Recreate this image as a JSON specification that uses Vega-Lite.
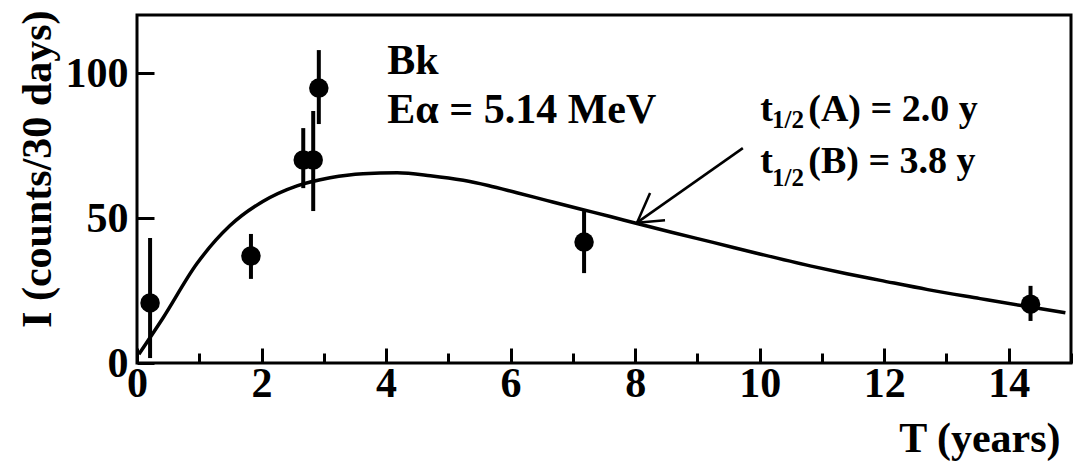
{
  "$schema": "https://vega.github.io/schema/vega-lite/v6.json",
  "width": 934,
  "height": 348,
  "autosize": {"type": "none"},
  "padding": {"left": 137, "top": 15, "right": 8, "bottom": 102},
  "background": "white",
  "config": {
    "view": {"stroke": "black", "strokeWidth": 3},
    "font": "Liberation Serif",
    "axis": {
      "grid": false,
      "domain": false,
      "labelFont": "Liberation Serif",
      "labelFontWeight": "bold",
      "labelFontSize": 42,
      "labelColor": "black",
      "labelFlush": false,
      "labelOverlap": false,
      "titleFont": "Liberation Serif",
      "titleFontWeight": "bold",
      "titleFontSize": 42,
      "titleColor": "black",
      "tickColor": "black",
      "tickWidth": 3
    },
    "text": {"font": "Liberation Serif", "fontWeight": "bold", "color": "black"}
  },
  "datasets": {
    "counts": [
      {"T": 0.21, "I": 20.7, "lo": 1.7, "hi": 43.1},
      {"T": 1.83, "I": 36.9, "lo": 29.0, "hi": 44.5},
      {"T": 2.67, "I": 70.0, "lo": 60.3, "hi": 81.0},
      {"T": 2.83, "I": 70.0, "lo": 52.4, "hi": 86.9},
      {"T": 2.92, "I": 94.8, "lo": 82.4, "hi": 107.9},
      {"T": 7.18, "I": 41.7, "lo": 31.0, "hi": 52.4},
      {"T": 14.35, "I": 20.3, "lo": 14.5, "hi": 26.6}
    ],
    "fit": [
      {"T": 0.03, "I": 3.0},
      {"T": 0.42, "I": 15.6},
      {"T": 0.96, "I": 34.2},
      {"T": 1.49, "I": 47.3},
      {"T": 2.02, "I": 55.7},
      {"T": 2.57, "I": 61.1},
      {"T": 3.1, "I": 63.9},
      {"T": 3.63, "I": 65.3},
      {"T": 4.18, "I": 65.6},
      {"T": 4.71, "I": 64.6},
      {"T": 5.24, "I": 63.0},
      {"T": 5.64, "I": 61.2},
      {"T": 6.1, "I": 58.7},
      {"T": 6.59, "I": 56.0},
      {"T": 7.1, "I": 53.2},
      {"T": 7.6, "I": 50.5},
      {"T": 8.03, "I": 48.1},
      {"T": 8.6, "I": 45.0},
      {"T": 9.25, "I": 41.6},
      {"T": 10.0, "I": 37.6},
      {"T": 10.81, "I": 33.5},
      {"T": 11.4, "I": 30.8},
      {"T": 11.94, "I": 28.5},
      {"T": 12.7, "I": 25.3},
      {"T": 13.54, "I": 22.2},
      {"T": 14.2, "I": 19.8},
      {"T": 14.91, "I": 17.3}
    ]
  },
  "layer": [
    {
      "data": {"name": "fit"},
      "mark": {"type": "line", "interpolate": "monotone", "color": "black", "strokeWidth": 3.5},
      "encoding": {
        "x": {
          "field": "T",
          "type": "quantitative",
          "scale": {"domain": [0, 15], "nice": false, "zero": false},
          "axis": {
            "title": "T (years)",
            "values": [0, 0.5, 1, 1.5, 2, 2.5, 3, 3.5, 4, 4.5, 5, 5.5, 6, 6.5, 7, 7.5, 8, 8.5, 9, 9.5, 10, 10.5, 11, 11.5, 12, 12.5, 13, 13.5, 14, 14.5, 15],
            "format": "d",
            "labelExpr": "datum.value % 2 === 0 ? datum.label : ''",
            "tickSize": {"condition": {"test": "datum.value % 2 === 0", "value": -15}, "value": -10},
            "labelPadding": 15,
            "titleAlign": "right",
            "titleAnchor": null,
            "titleX": 923,
            "titleY": 88,
            "titleBaseline": "alphabetic"
          }
        },
        "y": {
          "field": "I",
          "type": "quantitative",
          "scale": {"domain": [0, 120], "nice": false},
          "axis": {
            "title": "I (counts/30 days)",
            "values": [0, 50, 100],
            "tickSize": -17,
            "labelPadding": 26,
            "titleAngle": -90,
            "titleAlign": "right",
            "titleBaseline": "middle",
            "titleX": -100,
            "titleY": -5
          }
        }
      }
    },
    {
      "data": {"name": "counts"},
      "mark": {"type": "rule", "color": "black", "strokeWidth": 4},
      "encoding": {
        "x": {"field": "T", "type": "quantitative"},
        "y": {"field": "lo", "type": "quantitative"},
        "y2": {"field": "hi"}
      }
    },
    {
      "data": {"name": "counts"},
      "mark": {"type": "circle", "color": "black", "opacity": 1, "size": 380},
      "encoding": {
        "x": {"field": "T", "type": "quantitative"},
        "y": {"field": "I", "type": "quantitative"}
      }
    },
    {
      "data": {"values": [{}]},
      "mark": {"type": "rule", "color": "black", "strokeWidth": 2.5},
      "encoding": {
        "x": {"datum": 9.73, "type": "quantitative"},
        "y": {"datum": 74.1, "type": "quantitative"},
        "x2": {"datum": 8.03},
        "y2": {"datum": 48.4}
      }
    },
    {
      "data": {"values": [{}]},
      "mark": {"type": "rule", "color": "black", "strokeWidth": 2.5},
      "encoding": {
        "x": {"datum": 8.03, "type": "quantitative"},
        "y": {"datum": 48.4, "type": "quantitative"},
        "x2": {"datum": 8.24},
        "y2": {"datum": 58.6}
      }
    },
    {
      "data": {"values": [{}]},
      "mark": {"type": "rule", "color": "black", "strokeWidth": 2.5},
      "encoding": {
        "x": {"datum": 8.03, "type": "quantitative"},
        "y": {"datum": 48.4, "type": "quantitative"},
        "x2": {"datum": 8.48},
        "y2": {"datum": 49.2}
      }
    },
    {
      "data": {"values": [{}]},
      "mark": {"type": "text", "align": "left", "baseline": "alphabetic", "fontSize": 42},
      "encoding": {
        "x": {"datum": 4.02, "type": "quantitative"},
        "y": {"datum": 99.6, "type": "quantitative"},
        "text": {"value": "Bk"}
      }
    },
    {
      "data": {"values": [{}]},
      "mark": {"type": "text", "align": "left", "baseline": "alphabetic", "fontSize": 42},
      "encoding": {
        "x": {"datum": 4.02, "type": "quantitative"},
        "y": {"datum": 82.8, "type": "quantitative"},
        "text": {"value": "Eα = 5.14 MeV"}
      }
    },
    {
      "data": {"values": [{}]},
      "mark": {"type": "text", "align": "left", "baseline": "alphabetic", "fontSize": 38},
      "encoding": {
        "x": {"datum": 10.01, "type": "quantitative"},
        "y": {"datum": 83.5, "type": "quantitative"},
        "text": {"value": "t"}
      }
    },
    {
      "data": {"values": [{}]},
      "mark": {"type": "text", "align": "left", "baseline": "alphabetic", "fontSize": 25},
      "encoding": {
        "x": {"datum": 10.2, "type": "quantitative"},
        "y": {"datum": 81.0, "type": "quantitative"},
        "text": {"value": "1/2"}
      }
    },
    {
      "data": {"values": [{}]},
      "mark": {"type": "text", "align": "left", "baseline": "alphabetic", "fontSize": 38},
      "encoding": {
        "x": {"datum": 10.78, "type": "quantitative"},
        "y": {"datum": 83.5, "type": "quantitative"},
        "text": {"value": "(A) = 2.0 y"}
      }
    },
    {
      "data": {"values": [{}]},
      "mark": {"type": "text", "align": "left", "baseline": "alphabetic", "fontSize": 38},
      "encoding": {
        "x": {"datum": 10.01, "type": "quantitative"},
        "y": {"datum": 65.5, "type": "quantitative"},
        "text": {"value": "t"}
      }
    },
    {
      "data": {"values": [{}]},
      "mark": {"type": "text", "align": "left", "baseline": "alphabetic", "fontSize": 25},
      "encoding": {
        "x": {"datum": 10.2, "type": "quantitative"},
        "y": {"datum": 61.0, "type": "quantitative"},
        "text": {"value": "1/2"}
      }
    },
    {
      "data": {"values": [{}]},
      "mark": {"type": "text", "align": "left", "baseline": "alphabetic", "fontSize": 38},
      "encoding": {
        "x": {"datum": 10.78, "type": "quantitative"},
        "y": {"datum": 65.5, "type": "quantitative"},
        "text": {"value": "(B) = 3.8 y"}
      }
    }
  ]
}
